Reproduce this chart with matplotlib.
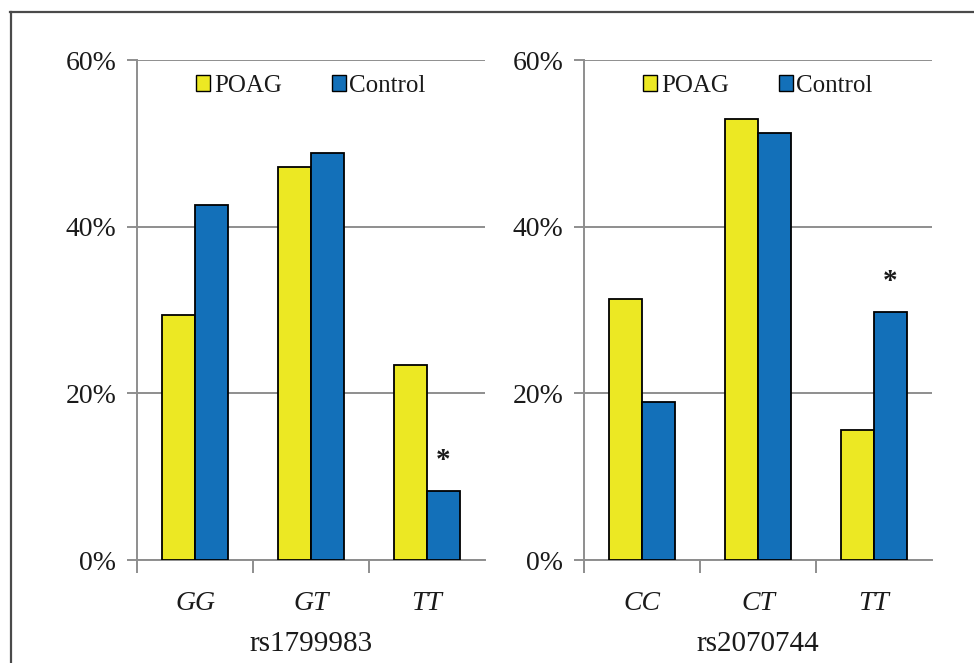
import matplotlib
matplotlib.use("Agg")
import matplotlib.pyplot as plt
import numpy as np
from matplotlib.lines import Line2D
from matplotlib.patches import Patch

plt.rcParams['font.family'] = ['Liberation Serif', 'DejaVu Serif']

# genotype frequencies (%)
snp_names = ["rs1799983", "rs2070744"]
genotypes = [["GG", "GT", "TT"], ["CC", "CT", "TT"]]
poag = [[29.4, 47.2, 23.4], [31.3, 52.9, 15.6]]
control = [[42.6, 48.8, 8.3], [19.0, 51.2, 29.8]]
# (panel, genotype index, series) carrying a significance mark
significant = [(0, 2, "control"), (1, 2, "control")]

yellow = "#ECE823"
blue = "#1370B9"
grid_gray = "#8E8E8E"
text_col = "#1A1A1A"

fig = plt.figure(figsize=(9.74, 6.63), dpi=100)
W, H = 974, 663

# frame around the figure (top and left edges only)
fig.add_artist(Line2D([10 / W, 1.0], [1 - 12 / H, 1 - 12 / H], transform=fig.transFigure,
                      color="#4A4A4A", lw=1.6))
fig.add_artist(Line2D([11 / W, 11 / W], [1 - 12 / H, 0.0], transform=fig.transFigure,
                      color="#4A4A4A", lw=1.6))

panel_x = [137, 584]
bw = 0.285

for p in range(2):
    ax = fig.add_axes([panel_x[p] / W, 103 / H, 348 / W, 500 / H])
    x = np.arange(3)
    ax.bar(x - bw / 2, poag[p], bw, color=yellow, edgecolor="black", lw=1.3,
           label="POAG", zorder=3)
    ax.bar(x + bw / 2, control[p], bw, color=blue, edgecolor="black", lw=1.3,
           label="Control", zorder=3)

    for (pp, gi, series) in significant:
        if pp != p:
            continue
        vals = control[p] if series == "control" else poag[p]
        xs = gi + bw / 2 if series == "control" else gi - bw / 2
        ax.text(xs, vals[gi] + 2.0, "*", ha="center", va="bottom",
                fontsize=21, fontweight="bold", color=text_col, zorder=4)

    ax.set_xlim(-0.5, 2.5)
    ax.set_ylim(0, 60)
    ax.set_yticks([0, 20, 40, 60])
    ax.set_yticklabels(["0%", "20%", "40%", "60%"])
    ax.yaxis.grid(True, color=grid_gray, lw=1.4, zorder=0)
    ax.set_axisbelow(True)

    ax.set_xticks(x)
    ax.set_xticklabels(genotypes[p], fontstyle="italic")
    ax.set_xticks([-0.5, 0.5, 1.5], minor=True)
    ax.tick_params(axis="x", which="major", length=0, pad=22, labelsize=20,
                   labelcolor=text_col)
    ax.tick_params(axis="x", which="minor", length=9, width=1.4, color=grid_gray,
                   direction="out")
    ax.tick_params(axis="y", length=7, width=1.4, color=grid_gray, pad=8,
                   labelsize=20, labelcolor=text_col)

    for s in ["top", "right"]:
        ax.spines[s].set_visible(False)
    for s in ["left", "bottom"]:
        ax.spines[s].set_color(grid_gray)
        ax.spines[s].set_linewidth(1.4)
    ax.spines["left"].set_bounds(0, 60)

    ax.set_xlabel(snp_names[p], fontsize=21, color=text_col, labelpad=11)

    handles = [Patch(facecolor=yellow, edgecolor="black", lw=1.0, label="POAG"),
               Patch(facecolor=blue, edgecolor="black", lw=1.0, label="Control")]
    ax.legend(handles=handles, loc="upper center", bbox_to_anchor=(0.5, 1.015),
              ncol=2, frameon=False, fontsize=18, handlelength=0.55,
              handleheight=0.6, handletextpad=0.15, columnspacing=2.0,
              labelcolor=text_col)

fig.savefig("out.png", dpi=100)
